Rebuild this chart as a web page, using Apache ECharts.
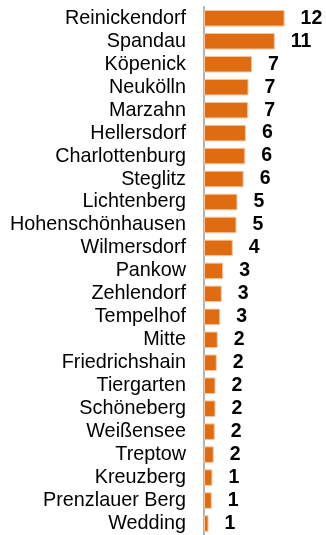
<!DOCTYPE html>
<html>
<head>
<meta charset="utf-8">
<script src="https://cdn.jsdelivr.net/npm/echarts@6/dist/echarts.min.js"></script>
<style>
  html, body { margin: 0; padding: 0; background: #ffffff; }
  #chart { width: 326px; height: 535px; }
</style>
</head>
<body>
<div id="chart"></div>
<script>
// Berlin districts, top to bottom
const districts = [
  'Reinickendorf', 'Spandau', 'Köpenick', 'Neukölln', 'Marzahn', 'Hellersdorf',
  'Charlottenburg', 'Steglitz', 'Lichtenberg', 'Hohenschönhausen', 'Wilmersdorf',
  'Pankow', 'Zehlendorf', 'Tempelhof', 'Mitte', 'Friedrichshain', 'Tiergarten',
  'Schöneberg', 'Weißensee', 'Treptow', 'Kreuzberg', 'Prenzlauer Berg', 'Wedding'
];

// Value per district (labels show the rounded value)
const values = [
  12.4, 10.9, 7.4, 6.85, 6.8, 6.45,
  6.35, 6.1, 5.15, 5.0, 4.43,
  2.95, 2.74, 2.5, 2.12, 1.97, 1.77,
  1.77, 1.66, 1.5, 1.3, 1.2, 0.7
];

const chart = echarts.init(document.getElementById('chart'), null, { renderer: 'canvas' });

chart.setOption({
  animation: false,
  grid: { left: 204, top: 6.8, width: 104, height: 530.6, containLabel: false },
  xAxis: {
    type: 'value',
    min: 0,
    max: 16,
    show: false
  },
  yAxis: {
    type: 'category',
    inverse: true,
    data: districts,
    axisLine: { show: true, lineStyle: { color: '#9a9a9a', width: 1.5 } },
    axisTick: { show: false },
    axisLabel: {
      interval: 0,
      margin: 18,
      color: '#000000',
      fontFamily: 'Liberation Sans, Arial, sans-serif',
      fontSize: 19.8
    }
  },
  series: [{
    type: 'bar',
    data: values,
    barCategoryGap: '28%',
    itemStyle: {
      color: '#e06c12',
      borderColor: '#f3c7a2',
      borderWidth: 1
    },
    label: {
      show: true,
      position: 'right',
      distance: 16,
      color: '#000000',
      fontFamily: 'Liberation Sans, Arial, sans-serif',
      fontWeight: 'bold',
      fontSize: 19.5,
      formatter: p => Math.round(p.value)
    }
  }]
});
</script>
</body>
</html>
